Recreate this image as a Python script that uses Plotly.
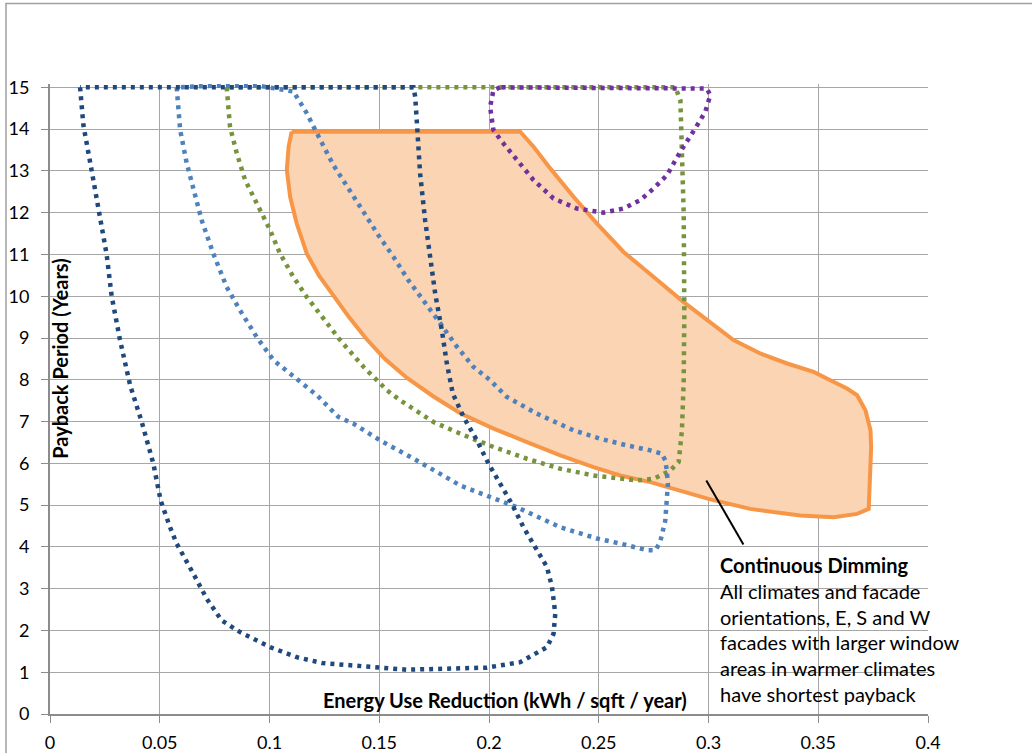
import plotly.graph_objects as go

# Energy Use Reduction (x) vs Payback Period (y)
navy_x = [0.0137, 0.0152, 0.019, 0.0225, 0.0258, 0.0281, 0.0319, 0.0365, 0.0418, 0.0471, 0.0504,
          0.0547, 0.0577, 0.0653, 0.0714, 0.0782, 0.0866, 0.1003, 0.1124, 0.1240, 0.150, 0.1626,
          0.199, 0.2142, 0.2264, 0.2294, 0.2302, 0.2287, 0.2264, 0.2226, 0.2157, 0.2104, 0.2051,
          0.1998, 0.1945, 0.1884, 0.1835, 0.1808, 0.1785, 0.1755, 0.1732, 0.1709, 0.1686, 0.1674,
          0.1664, 0.1656, 0.0137]
navy_y = [15.0, 14.1, 13.0, 12.0, 11.0, 10.0, 8.95, 7.87, 6.99, 5.99, 5.11,
          4.47, 4.08, 3.36, 2.76, 2.24, 1.96, 1.60, 1.36, 1.22, 1.11, 1.06,
          1.11, 1.24, 1.60, 1.92, 2.40, 3.04, 3.52, 3.84, 4.47, 5.03, 5.51,
          5.99, 6.55, 7.11, 7.67, 8.39, 9.19, 10.06, 10.94, 11.82, 12.94, 13.98,
          14.77, 15.0, 15.0]

blue_x = [0.0577, 0.0593, 0.0623, 0.0653, 0.0691, 0.0744, 0.0805, 0.0866, 0.0942, 0.1018, 0.1109,
          0.1216, 0.1314, 0.1382, 0.1504, 0.1671, 0.1869, 0.2021, 0.2127, 0.2325, 0.2492, 0.2598,
          0.272, 0.2758, 0.278, 0.2803, 0.2811, 0.2815, 0.281, 0.2803, 0.2788, 0.2735, 0.2628,
          0.2507, 0.2385, 0.2218, 0.2081, 0.2005, 0.1929, 0.1854, 0.1778, 0.1709, 0.1633, 0.1565,
          0.1496, 0.1428, 0.136, 0.1291, 0.1216, 0.117, 0.1109, 0.095, 0.075, 0.0577]
blue_y = [15.0, 13.98, 13.18, 12.54, 11.82, 11.02, 10.22, 9.66, 9.02, 8.47, 8.07,
          7.63, 7.11, 6.95, 6.55, 6.07, 5.47, 5.15, 4.95, 4.47, 4.20, 4.08,
          3.92, 3.92, 4.12, 4.63, 5.11, 5.50, 5.83, 6.07, 6.23, 6.31, 6.43,
          6.59, 6.79, 7.19, 7.59, 7.99, 8.31, 8.79, 9.35, 9.86, 10.38, 10.94,
          11.46, 12.02, 12.58, 13.14, 13.90, 14.38, 14.90, 15.04, 15.04, 15.0]

green_x = [0.0805, 0.082, 0.0851, 0.0889, 0.0927, 0.0965, 0.1003, 0.1048, 0.1109, 0.117, 0.1246,
           0.1322, 0.1428, 0.1535, 0.1595, 0.1747, 0.1869, 0.2021, 0.2173, 0.2325, 0.2476, 0.2598,
           0.2674, 0.275, 0.2826, 0.2864, 0.2879, 0.2887, 0.289, 0.2887, 0.2879, 0.2872, 0.2849,
           0.0805]
green_y = [15.0, 14.06, 13.42, 12.78, 12.38, 11.98, 11.58, 11.02, 10.46, 9.98, 9.45,
           8.95, 8.31, 7.75, 7.51, 6.99, 6.71, 6.39, 6.11, 5.87, 5.71, 5.63,
           5.59, 5.63, 5.83, 6.03, 6.79, 7.99, 9.59, 11.98, 13.58, 14.69, 15.0,
           15.0]

purple_x = [0.205, 0.202, 0.2005, 0.2009, 0.202, 0.2059, 0.2127, 0.2203, 0.2294, 0.24, 0.2522,
            0.2613, 0.2689, 0.275, 0.2811, 0.2872, 0.294, 0.2985, 0.3008, 0.2993, 0.205]
purple_y = [15.0, 14.93, 14.53, 14.34, 13.98, 13.70, 13.26, 12.78, 12.34, 12.10, 12.0,
            12.10, 12.30, 12.58, 12.90, 13.46, 14.02, 14.41, 14.81, 14.97, 15.0]

orange_x = [0.1101, 0.1087, 0.1079, 0.1094, 0.1124, 0.117, 0.1225, 0.1292, 0.1362, 0.1438, 0.1525,
            0.1625, 0.1747, 0.1869, 0.2021, 0.2173, 0.2325, 0.2476, 0.2598, 0.2735, 0.3, 0.319,
            0.3418, 0.357, 0.3677, 0.373, 0.3735, 0.3741, 0.3738, 0.3715, 0.3677, 0.3631, 0.3555,
            0.3479, 0.3358, 0.3236, 0.3114, 0.3008, 0.2887, 0.275, 0.2613, 0.2492, 0.2385, 0.2279,
            0.2203, 0.2142, 0.1101]
orange_y = [13.94, 13.58, 13.02, 12.38, 11.74, 11.02, 10.50, 10.0, 9.5, 9.0, 8.5,
            8.05, 7.6, 7.2, 6.83, 6.51, 6.19, 5.91, 5.71, 5.55, 5.15, 4.91,
            4.75, 4.71, 4.79, 4.91, 5.59, 6.39, 6.79, 7.27, 7.63, 7.79, 7.99,
            8.19, 8.39, 8.63, 8.95, 9.38, 9.86, 10.46, 11.06, 11.74, 12.38, 13.06,
            13.58, 13.94, 13.94]

x_ticks = [0, 0.05, 0.1, 0.15, 0.2, 0.25, 0.3, 0.35, 0.4]
x_labels = ["0", "0.05", "0.1", "0.15", "0.2", "0.25", "0.3", "0.35", "0.4"]
y_ticks = list(range(0, 16))

note_lines = ["<b>Continuous Dimming</b>", "All climates and facade",
              "orientations, E, S and W", "facades with larger window",
              "areas in warmer climates", "have shortest payback"]

font_family = "Lato, Carlito, Calibri, sans-serif"
dots = "4px,5px"

fig = go.Figure()
fig.add_trace(go.Scatter(x=orange_x, y=orange_y, mode="lines", fill="toself",
                         fillcolor="#FBD4B4", line=dict(color="#F79646", width=4)))
fig.add_trace(go.Scatter(x=green_x, y=green_y, mode="lines",
                         line=dict(color="#77933C", width=4.5, dash=dots)))
fig.add_trace(go.Scatter(x=blue_x, y=blue_y, mode="lines",
                         line=dict(color="#4F81BD", width=4.5, dash=dots)))
fig.add_trace(go.Scatter(x=navy_x, y=navy_y, mode="lines",
                         line=dict(color="#1F497D", width=4.5, dash=dots)))
fig.add_trace(go.Scatter(x=purple_x, y=purple_y, mode="lines",
                         line=dict(color="#7030A0", width=4.5, dash=dots)))

axis_style = dict(showgrid=True, gridcolor="#A6A6A6", gridwidth=1,
                  showline=True, linecolor="#8C8C8C", linewidth=2,
                  ticks="outside", ticklen=7, tickcolor="#8C8C8C", tickwidth=1,
                  zeroline=False, automargin=False, tickfont=dict(size=18, color="black"))

fig.update_xaxes(range=[0, 0.4], tickvals=x_ticks, ticktext=x_labels,
                 ticklabelstandoff=4, **axis_style)
# a little headroom so the dotted lines along 15 are not cut in half
fig.update_yaxes(range=[0, 15.08], tickvals=y_ticks, ticklabelstandoff=8, **axis_style)

fig.add_shape(type="line", xref="x", yref="y", x0=0.299, y0=5.59, x1=0.3159, y1=4.06,
              line=dict(color="black", width=2))
fig.add_shape(type="rect", xref="paper", yref="paper", x0=-0.0501, y0=-0.3, x1=1.3, y1=1.1276,
              line=dict(color="#A0A0A0", width=1.5))

fig.add_annotation(x=0.3045, y=3.56, xref="x", yref="y", xanchor="left", yanchor="middle",
                   text=note_lines[0], showarrow=False, font=dict(size=20))
for i, line in enumerate(note_lines[1:]):
    fig.add_annotation(x=0.3045, y=3.56 - 0.615 * (i + 1), xref="x", yref="y",
                       xanchor="left", yanchor="middle", text=line, showarrow=False,
                       font=dict(size=20))

fig.add_annotation(x=0.2074, y=0.33, xref="x", yref="y", text="<b>Energy Use Reduction (kWh / sqft / year)</b>",
                   showarrow=False, font=dict(size=20), xanchor="center", yanchor="middle")
fig.add_annotation(x=0.0045, y=8.5, xref="x", yref="y", text="<b>Payback Period (Years)</b>",
                   textangle=-90, showarrow=False, font=dict(size=20), xanchor="center", yanchor="middle")

fig.update_layout(width=1032, height=753, showlegend=False,
                  plot_bgcolor="white", paper_bgcolor="white",
                  font=dict(family=font_family, color="black"),
                  margin=dict(l=50, r=104, t=84, b=39, autoexpand=False))

fig.write_html("out.html", config={"displayModeBar": False},
               post_script="document.body.style.margin='0px';")
